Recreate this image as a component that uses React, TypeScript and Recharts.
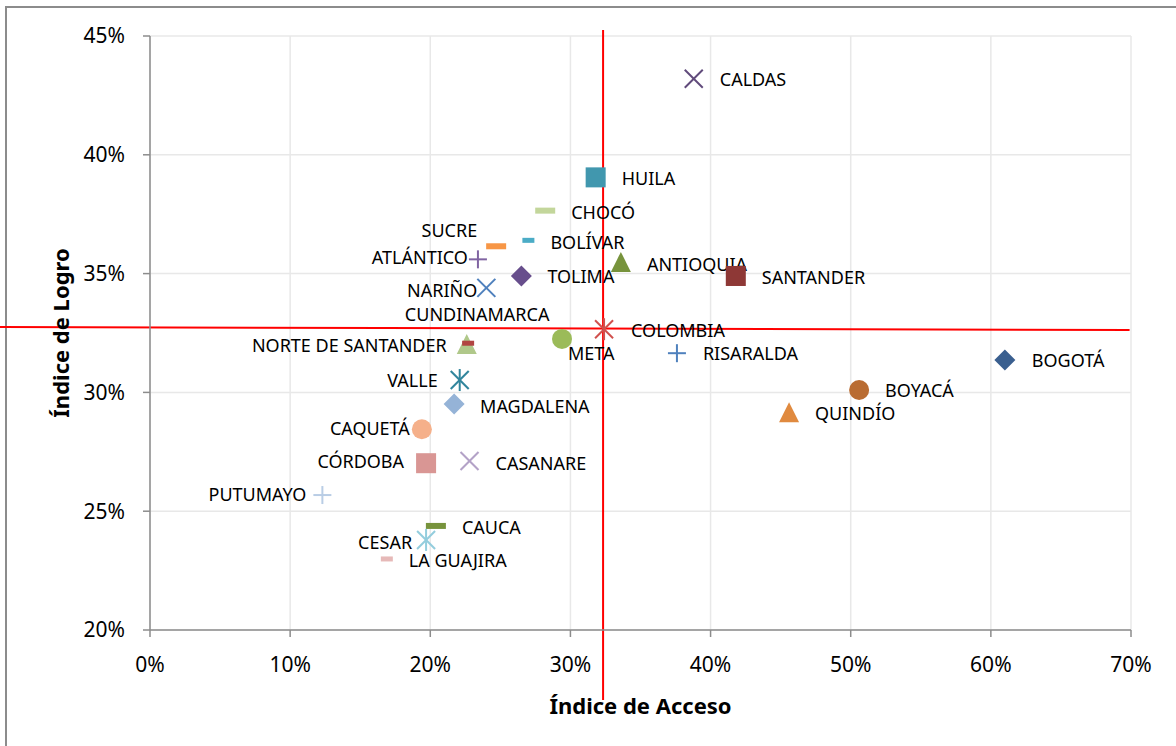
import React from 'react';
import { ScatterChart, Scatter, XAxis, YAxis, CartesianGrid, ReferenceLine } from 'recharts';

// Datos (porcentajes)
const departamentos = [
  'CALDAS', 'HUILA', 'CHOCÓ', 'SUCRE', 'BOLÍVAR', 'ATLÁNTICO', 'TOLIMA', 'NARIÑO',
  'ANTIOQUIA', 'SANTANDER', 'NORTE DE SANTANDER', 'CUNDINAMARCA', 'META', 'COLOMBIA',
  'RISARALDA', 'BOGOTÁ', 'BOYACÁ', 'QUINDÍO', 'VALLE', 'MAGDALENA', 'CAQUETÁ',
  'CÓRDOBA', 'CASANARE', 'PUTUMAYO', 'CAUCA', 'CESAR', 'LA GUAJIRA',
];
const indiceAcceso = [
  38.8, 31.8, 28.2, 24.7, 27.0, 23.4, 26.5, 24.0,
  33.6, 41.8, 22.6, 22.7, 29.4, 32.4,
  37.6, 61.0, 50.6, 45.6, 22.1, 21.7, 19.4,
  19.7, 22.8, 12.3, 20.4, 19.7, 16.9,
];
const indiceLogro = [
  43.2, 39.05, 37.65, 36.15, 36.4, 35.6, 34.9, 34.4,
  35.45, 34.9, 32.0, 32.07, 32.25, 32.66,
  31.65, 31.36, 30.1, 29.12, 30.52, 29.51, 28.45,
  27.02, 27.11, 25.68, 24.38, 23.79, 22.99,
];
const ticksAcceso = [0, 10, 20, 30, 40, 50, 60, 70];
const ticksLogro = [20, 25, 30, 35, 40, 45];
// promedio nacional (líneas de referencia)
const lineaLogro = [{ x: -11, y: 32.75 }, { x: 69.9, y: 32.63 }];
const lineaAcceso = [{ x: 32.33, y: 45.25 }, { x: 32.33, y: 17.05 }];

// estilo de marcador por departamento: [forma, color]
const marcadores: Record<string, [string, string]> = {
  'CALDAS': ['x', '#604A7B'],
  'HUILA': ['square', '#4197AE'],
  'CHOCÓ': ['dash', '#C3D69B'],
  'SUCRE': ['dash', '#F79646'],
  'BOLÍVAR': ['smalldash', '#4BACC6'],
  'ATLÁNTICO': ['plus', '#8064A2'],
  'TOLIMA': ['diamond', '#674E8C'],
  'NARIÑO': ['x', '#4F81BD'],
  'ANTIOQUIA': ['triangle', '#77933C'],
  'SANTANDER': ['square', '#8E3836'],
  'NORTE DE SANTANDER': ['triangle', '#B0C88A'],
  'CUNDINAMARCA': ['smalldash', '#B14542'],
  'META': ['circle', '#9BBB59'],
  'COLOMBIA': ['star', '#D0504D'],
  'RISARALDA': ['plus', '#4F81BD'],
  'BOGOTÁ': ['diamond', '#3A5F8F'],
  'BOYACÁ': ['circle', '#B96C32'],
  'QUINDÍO': ['triangle', '#E08A3F'],
  'VALLE': ['star', '#31859C'],
  'MAGDALENA': ['diamond', '#95B3D7'],
  'CAQUETÁ': ['circle', '#F5B08A'],
  'CÓRDOBA': ['square', '#D99694'],
  'CASANARE': ['x', '#B3A2C7'],
  'PUTUMAYO': ['plus', '#B9CDE5'],
  'CAUCA': ['dash', '#77933C'],
  'CESAR': ['star', '#93CDDD'],
  'LA GUAJIRA': ['smalldash', '#E6B9B8'],
};

// posición de la etiqueta respecto al marcador: [dx, dy, anchor]
const etiquetas: Record<string, [number, number, 'start' | 'end' | 'middle']> = {
  'CALDAS': [26, 0, 'start'],
  'HUILA': [26, 1, 'start'],
  'CHOCÓ': [26, 1, 'start'],
  'SUCRE': [-19, -16, 'end'],
  'BOLÍVAR': [22, 2, 'start'],
  'ATLÁNTICO': [-10, -2, 'end'],
  'TOLIMA': [26, 0, 'start'],
  'NARIÑO': [-9, 2, 'end'],
  'ANTIOQUIA': [26, 1, 'start'],
  'SANTANDER': [26, 1, 'start'],
  'NORTE DE SANTANDER': [-20, 0, 'end'],
  'CUNDINAMARCA': [9, -29, 'middle'],
  'META': [6, 14, 'start'],
  'COLOMBIA': [27, 1, 'start'],
  'RISARALDA': [26, 0, 'start'],
  'BOGOTÁ': [27, 0, 'start'],
  'BOYACÁ': [26, 0, 'start'],
  'QUINDÍO': [26, 0, 'start'],
  'VALLE': [-22, 0, 'end'],
  'MAGDALENA': [26, 2, 'start'],
  'CAQUETÁ': [-12, -1, 'end'],
  'CÓRDOBA': [-22, -2, 'end'],
  'CASANARE': [26, 2, 'start'],
  'PUTUMAYO': [-16, -1, 'end'],
  'CAUCA': [26, 1, 'start'],
  'CESAR': [-14, 2, 'end'],
  'LA GUAJIRA': [22, 1, 'start'],
};

const FONT = '"Noto Sans", "Open Sans", sans-serif';

const data = departamentos.map((nombre, i) => ({
  nombre,
  acceso: indiceAcceso[i],
  logro: indiceLogro[i],
}));

function Marcador({ forma, color, cx, cy }: { forma: string; color: string; cx: number; cy: number }) {
  switch (forma) {
    case 'square':
      return <rect x={cx - 10} y={cy - 10} width={20} height={20} fill={color} />;
    case 'diamond':
      return <polygon points={`${cx},${cy - 10.5} ${cx + 10.5},${cy} ${cx},${cy + 10.5} ${cx - 10.5},${cy}`} fill={color} />;
    case 'triangle':
      return <polygon points={`${cx},${cy - 11} ${cx + 10},${cy + 9} ${cx - 10},${cy + 9}`} fill={color} />;
    case 'circle':
      return <circle cx={cx} cy={cy} r={10} fill={color} />;
    case 'x':
      return (
        <g stroke={color} strokeWidth={2}>
          <line x1={cx - 9} y1={cy - 9} x2={cx + 9} y2={cy + 9} />
          <line x1={cx - 9} y1={cy + 9} x2={cx + 9} y2={cy - 9} />
        </g>
      );
    case 'plus':
      return (
        <g stroke={color} strokeWidth={2}>
          <line x1={cx - 9} y1={cy} x2={cx + 9} y2={cy} />
          <line x1={cx} y1={cy - 9} x2={cx} y2={cy + 9} />
        </g>
      );
    case 'star':
      return (
        <g stroke={color} strokeWidth={2}>
          <line x1={cx - 9} y1={cy - 9} x2={cx + 9} y2={cy + 9} />
          <line x1={cx - 9} y1={cy + 9} x2={cx + 9} y2={cy - 9} />
          <line x1={cx} y1={cy - 11} x2={cx} y2={cy + 11} />
        </g>
      );
    case 'dash':
      return <rect x={cx - 10} y={cy - 3} width={20} height={6} fill={color} />;
    case 'smalldash':
      return <rect x={cx - 6} y={cy - 2.5} width={12} height={5} fill={color} />;
    default:
      return null;
  }
}

const PuntoConEtiqueta = (props: any) => {
  const { cx, cy, payload } = props;
  const [forma, color] = marcadores[payload.nombre];
  const [dx, dy, anchor] = etiquetas[payload.nombre];
  return (
    <g>
      <Marcador forma={forma} color={color} cx={cx} cy={cy} />
      <text
        x={cx + dx}
        y={cy + dy}
        textAnchor={anchor}
        dominantBaseline="central"
        fontSize={18}
        fontFamily={FONT}
        fill="#000"
      >
        {payload.nombre}
      </text>
    </g>
  );
};

export default function App() {
  return (
    <div style={{ position: 'absolute', left: 0, top: 0, width: 1176, height: 746, background: '#fff' }}>
      <div
        style={{
          position: 'absolute',
          left: 5,
          top: 6,
          width: 1200,
          height: 800,
          borderLeft: '2px solid #8c8c8c',
          borderTop: '2px solid #8c8c8c',
          boxSizing: 'border-box',
        }}
      />
      <ScatterChart
        width={1176}
        height={746}
        margin={{ top: 36, right: 45, bottom: 16, left: 0 }}
        style={{ position: 'absolute', left: 0, top: 0 }}
      >
        <CartesianGrid stroke="#e8e8e8" strokeWidth={1.5} />
        <XAxis
          type="number"
          dataKey="acceso"
          domain={[0, 70]}
          ticks={ticksAcceso}
          tickFormatter={(v) => `${v}%`}
          height={100}
          tickSize={7}
          tickMargin={20}
          stroke="#8c8c8c"
          strokeWidth={1.5}
          tick={{ fontSize: 21, fill: '#000', fontFamily: FONT }}
          label={{
            value: 'Índice de Acceso',
            position: 'center',
            dy: 26,
            style: { fontSize: 22, fontWeight: 700, fill: '#000', fontFamily: FONT },
          }}
        />
        <YAxis
          type="number"
          dataKey="logro"
          domain={[20, 45]}
          ticks={ticksLogro}
          tickFormatter={(v) => `${v}%`}
          width={150}
          tickSize={7}
          tickMargin={18}
          stroke="#8c8c8c"
          strokeWidth={1.5}
          tick={{ fontSize: 21, fill: '#000', fontFamily: FONT }}
          label={{
            value: 'Índice de Logro',
            position: 'center',
            angle: -90,
            dx: -14,
            style: { fontSize: 22, fontWeight: 700, fill: '#000', fontFamily: FONT },
          }}
        />
        <ReferenceLine segment={lineaLogro} stroke="#ff0000" strokeWidth={2} ifOverflow="visible" />
        <ReferenceLine segment={lineaAcceso} stroke="#ff0000" strokeWidth={2} ifOverflow="visible" />
        <Scatter data={data} shape={PuntoConEtiqueta} isAnimationActive={false} />
      </ScatterChart>
    </div>
  );
}
